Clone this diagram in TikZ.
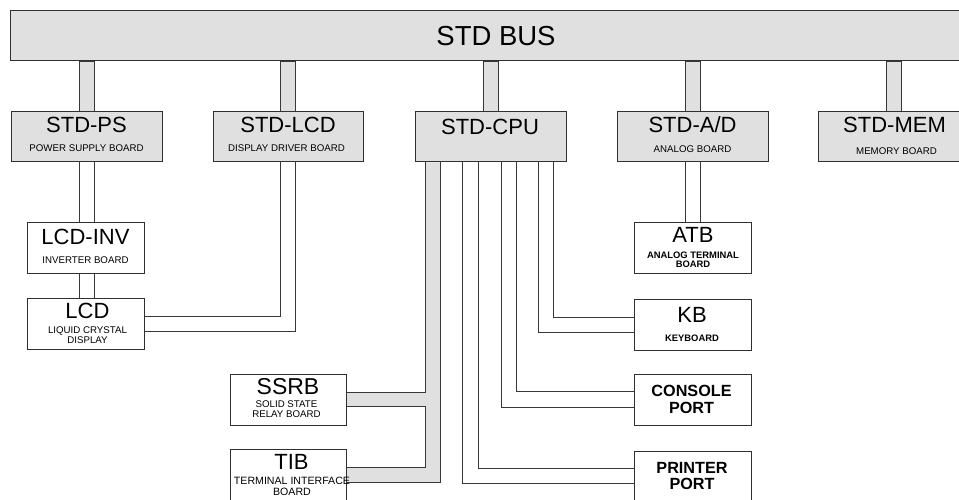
\documentclass[tikz,border=0pt]{standalone}
\usepackage{fontspec}
\setmainfont{Liberation Sans}
\usetikzlibrary{calc}
\newcommand\fsz[1]{\fontsize{#1}{#1}\selectfont}
\definecolor{boxgray}{HTML}{E0E0E0}
\definecolor{edge}{HTML}{303030}
\definecolor{wire}{HTML}{383838}
\tikzset{
  boxg/.style={draw=edge,line width=1pt,fill=boxgray,inner sep=0pt,minimum height=50pt},
  boxw/.style={draw=edge,line width=1pt,fill=white,inner sep=0pt,minimum width=117pt,minimum height=51pt},
  stem/.style={draw=wire,line width=0.9pt,fill=boxgray},
  wirel/.style={draw=wire,line width=0.9pt},
  lbl/.style={anchor=base,inner sep=0pt,text=black},
  big/.style={lbl,font=\fsz{22}},
  small/.style={lbl,font=\fsz{9.7}},
  smallb/.style={lbl,font=\fsz{9.4}\bfseries},
  port/.style={lbl,font=\fsz{16.2}\bfseries},
}
\begin{document}
\begin{tikzpicture}[x=1pt,y=-1pt]
\useasboundingbox (0,0) rectangle (959,500);
\clip (0,0) rectangle (959,500);
\fill[white] (0,0) rectangle (959,500);

% boxes (placed first for anchors; drawn again later on top)
\path
  (497.5,36)  node[boxg,minimum width=975pt] (bus) {}
  (86.5,137)  node[boxg,minimum width=151pt] (ps) {}
  (288,137)   node[boxg,minimum width=150pt] (lcdb) {}
  (490.5,137) node[boxg,minimum width=151pt] (cpu) {}
  (692.5,137) node[boxg,minimum width=151pt] (ad) {}
  (894,137)   node[boxg,minimum width=152pt] (mem) {}
  (85.5,247.5) node[boxw] (inv) {}
  (85.5,323.5) node[boxw] (lcd) {}
  (692.5,247.5) node[boxw] (atb) {}
  (692.5,324.5) node[boxw] (kb) {}
  (692.5,399.5) node[boxw] (con) {}
  (692.5,476.5) node[boxw] (prn) {}
  (288,399.5) node[boxw,minimum width=116pt] (ssrb) {}
  (288,474.5) node[boxw,minimum width=116pt] (tib) {};

% stems from the bus
\foreach \b in {ps,lcdb,cpu,ad,mem}{
  \draw[stem] ($(\b.north)+(-7.5,0)$) rectangle ($(\b.north |- bus.south)+(7.5,0)$);
}

% double-line connectors
\draw[wirel] ($(ps.south)+(-7.5,0)$) -- ($(inv.north -| ps.south)+(-7.5,0)$);
\draw[wirel] ($(ps.south)+(7.5,0)$) -- ($(inv.north -| ps.south)+(7.5,0)$);
\draw[wirel] ($(inv.south -| ps.south)+(-7.5,0)$) -- ($(lcd.north -| ps.south)+(-7.5,0)$);
\draw[wirel] ($(inv.south -| ps.south)+(7.5,0)$) -- ($(lcd.north -| ps.south)+(7.5,0)$);
\draw[wirel] ($(lcd.east)+(0,-7.5)$) -| ($(lcdb.south)+(-7.5,0)$);
\draw[wirel] ($(lcd.east)+(0,7.5)$) -| ($(lcdb.south)+(7.5,0)$);
\draw[wirel] ($(ad.south)+(-7.5,0)$) -- ($(atb.north -| ad.south)+(-7.5,0)$);
\draw[wirel] ($(ad.south)+(7.5,0)$) -- ($(atb.north -| ad.south)+(7.5,0)$);

\draw[wirel] ($(cpu.south west)+(139,0)$) |- ($(kb.west)+(0,-7.5)$);
\draw[wirel] ($(cpu.south west)+(124,0)$) |- ($(kb.west)+(0,7.5)$);
\draw[wirel] ($(cpu.south west)+(102,0)$) |- ($(con.west)+(0,-8)$);
\draw[wirel] ($(cpu.south west)+(87,0)$) |- ($(con.west)+(0,8)$);
\draw[wirel] ($(cpu.south west)+(64,0)$) |- ($(prn.west)+(0,-8.5)$);
\draw[wirel] ($(cpu.south west)+(48,0)$) |- ($(prn.west)+(0,6.5)$);

% gray band to SSRB and TIB
\coordinate (c1) at ($(cpu.south west)+(11,0)$);
\coordinate (c2) at ($(cpu.south west)+(26,0)$);
\coordinate (sa) at ($(ssrb.east)+(0,-7)$);
\coordinate (sb) at ($(ssrb.east)+(0,7)$);
\coordinate (ta) at ($(tib.east)+(0,-7.5)$);
\coordinate (tb) at ($(tib.east)+(0,7.5)$);
\fill[boxgray] (c1) -- (c2) |- (tb) -- (ta) -| (c1 |- sb) -- (sb) -- (sa) -- (c1 |- sa) -- cycle;
\draw[wirel] (c1) |- (sa);
\draw[wirel] (sb) -| (c1 |- ta) -- (ta);
\draw[wirel] (c2) |- (tb);

% boxes drawn on top
\path
  (497.5,36)  node[boxg,minimum width=975pt] (busb) {}
  (86.5,137)  node[boxg,minimum width=151pt] (psb) {}
  (288,137)   node[boxg,minimum width=150pt] (lcdbb) {}
  (490.5,137) node[boxg,minimum width=151pt] (cpub) {}
  (692.5,137) node[boxg,minimum width=151pt] (adb) {}
  (894,137)   node[boxg,minimum width=152pt] (memb) {}
  (85.5,247.5) node[boxw] (invb) {}
  (85.5,323.5) node[boxw] (lcdbx) {}
  (692.5,247.5) node[boxw] (atbb) {}
  (692.5,324.5) node[boxw] (kbb) {}
  (692.5,399.5) node[boxw] (conb) {}
  (692.5,476.5) node[boxw] (prnb) {}
  (288,399.5) node[boxw,minimum width=116pt] (ssrbb) {}
  (288,474.5) node[boxw,minimum width=116pt] (tibb) {};

% labels
\node[lbl,font=\fsz{27.5}] (tbus) at (496,46) {STD BUS};
\node[big] (tps) at (86.5,133) {STD-PS};
\node[small] (tps2) at (86.5,152) {POWER SUPPLY BOARD};
\node[big] (tlcdb) at (288,133) {STD-LCD};
\node[small] (tlcdb2) at (286.5,152) {DISPLAY DRIVER BOARD};
\node[big] (tcpu) at (490,135) {STD-CPU};
\node[big] (tad) at (692.5,133) {STD-A/D};
\node[small] (tad2) at (692.5,153) {ANALOG BOARD};
\node[big] (tmem) at (894.5,133) {STD-MEM};
\node[small] (tmem2) at (896.5,155) {MEMORY BOARD};
\node[big] (tinv) at (85.5,244) {LCD-INV};
\node[small] (tinv2) at (85.5,263) {INVERTER BOARD};
\node[big] (tlcd) at (87.5,318) {LCD};
\node[small] (tlcd2) at (87.5,333) {LIQUID CRYSTAL};
\node[small] (tlcd3) at (87.5,343) {DISPLAY};
\node[big] (tatb) at (693,242) {ATB};
\node[smallb] (tatb2) at (693,258) {ANALOG TERMINAL};
\node[smallb] (tatb3) at (693,267.5) {BOARD};
\node[big] (tkb) at (692,322) {KB};
\node[smallb] (tkb2) at (692,341) {KEYBOARD};
\node[port] (tcon) at (691.5,396) {CONSOLE};
\node[port] (tcon2) at (691.5,413) {PORT};
\node[port] (tprn) at (692,473) {PRINTER};
\node[port] (tprn2) at (692,489) {PORT};
\node[lbl,font=\fsz{23}] (tssrb) at (288,394) {SSRB};
\node[small] (tssrb2) at (286.5,407) {SOLID STATE};
\node[small] (tssrb3) at (286.5,417) {RELAY BOARD};
\node[big] (ttib) at (291.5,469) {TIB};
\node[lbl,font=\fsz{10.6}] (ttib2) at (292,484) {TERMINAL INTERFACE};
\node[lbl,font=\fsz{10.6}] (ttib3) at (292,495) {BOARD};
\end{tikzpicture}
\end{document}
